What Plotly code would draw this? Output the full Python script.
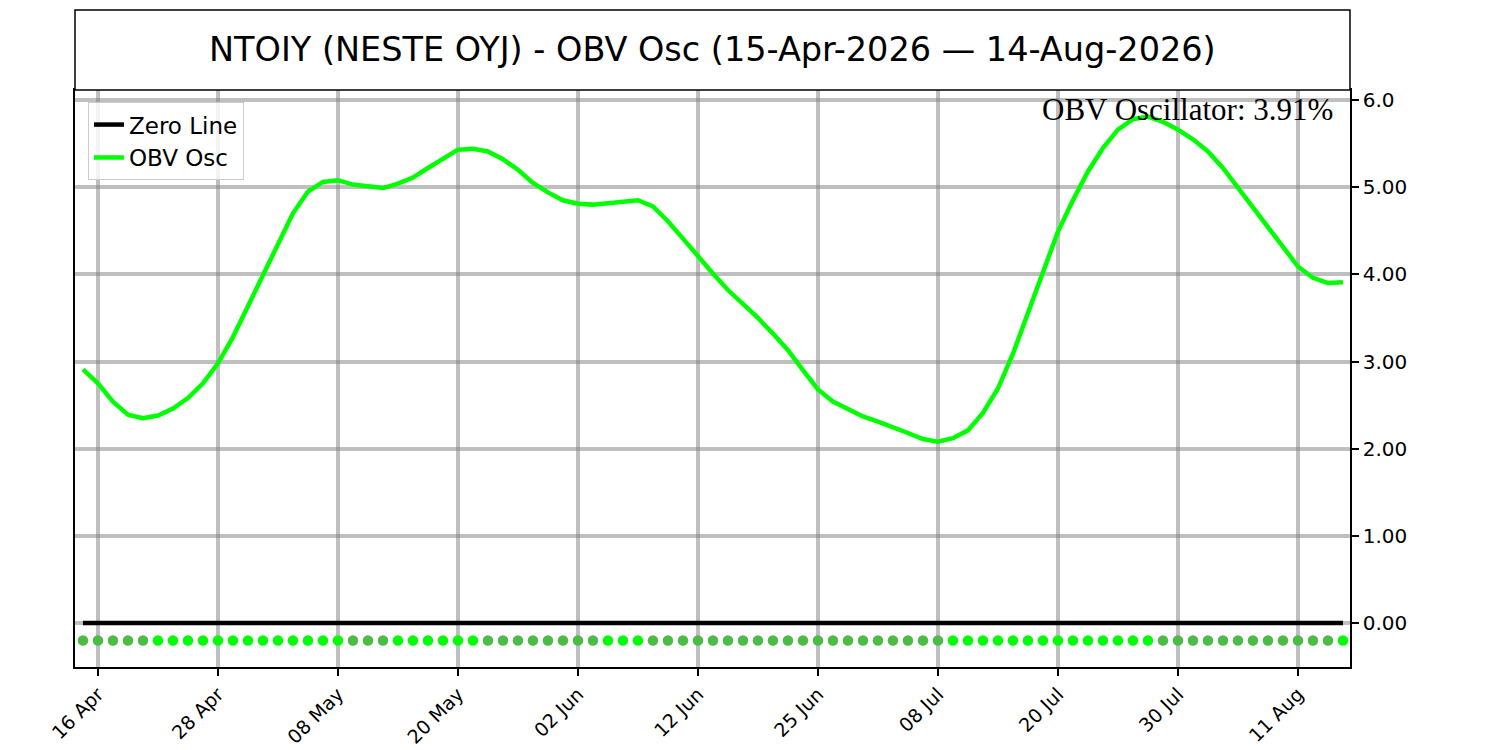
import pandas as pd
import plotly.graph_objects as go

# ---------------- data ----------------
start_date = "2026-04-15"
end_date = "2026-08-14"
market_holidays = ["2026-05-25", "2026-06-19", "2026-07-03"]

obv_osc = [
    2.91, 2.75, 2.54, 2.39, 2.35, 2.38, 2.46, 2.58, 2.75, 2.98,
    3.28, 3.63, 3.99, 4.35, 4.70, 4.95, 5.06, 5.08, 5.03, 5.01,
    4.99, 5.04, 5.11, 5.22, 5.33, 5.43, 5.44, 5.41, 5.32, 5.20,
    5.05, 4.94, 4.85, 4.81, 4.80, 4.82, 4.84, 4.85, 4.78, 4.61,
    4.41, 4.20, 4.01, 3.82, 3.66, 3.50, 3.32, 3.13, 2.90, 2.68,
    2.54, 2.45, 2.37, 2.31, 2.25, 2.18, 2.11, 2.08, 2.12, 2.21,
    2.41, 2.69, 3.09, 3.55, 4.03, 4.49, 4.85, 5.18, 5.45, 5.66,
    5.78, 5.81, 5.75, 5.66, 5.55, 5.41, 5.22, 4.99, 4.76, 4.53,
    4.30, 4.09, 3.96, 3.90, 3.91,
]
dot_level = -0.2
tick_every = 8
tick_first = 1
y_tick_vals = [0, 1, 2, 3, 4, 5, 6]
y_tick_text = ["0.00", "1.00", "2.00", "3.00", "4.00", "5.00", "6.0"]

title_text = "NTOIY (NESTE OYJ) - OBV Osc (15-Apr-2026 \u2014 14-Aug-2026)"
last_label = "OBV Oscillator: 3.91%"

# ---------------- derived ----------------
dates = [d for d in pd.bdate_range(start_date, end_date)
         if d.strftime("%Y-%m-%d") not in market_holidays]
n = len(obv_osc)
dates = dates[:n]
idx = list(range(n))
tick_idx = list(range(tick_first, n, tick_every))
tick_text = [dates[i].strftime("%d %b") for i in tick_idx]

BRIGHT = "#00ff00"
DULL = "#4cbb47"
dot_colors = [DULL] + [BRIGHT if obv_osc[i] >= obv_osc[i - 1] else DULL for i in range(1, n)]

fig = go.Figure()

fig.add_trace(go.Scatter(
    x=idx, y=[0] * n, mode="lines", name="Zero Line",
    line=dict(color="black", width=4.5),
))
fig.add_trace(go.Scatter(
    x=idx, y=obv_osc, mode="lines", name="OBV Osc",
    line=dict(color=BRIGHT, width=4.5),
))
fig.add_trace(go.Scatter(
    x=idx, y=[dot_level] * n, mode="markers", showlegend=False,
    marker=dict(color=dot_colors, size=10.5, line=dict(width=0)),
))

plot_h = 577
fig.add_shape(type="rect", xref="paper", yref="paper",
              x0=0, x1=1, y0=1, y1=1 + 80 / plot_h,
              line=dict(color="black", width=1.5), fillcolor="white", layer="above")
fig.add_annotation(text=title_text, xref="paper", yref="paper",
                   x=0.5, y=1 + 40 / plot_h, showarrow=False,
                   xanchor="center", yanchor="middle",
                   font=dict(family="DejaVu Sans", size=33.5, color="black"))
fig.add_annotation(text=last_label, xref="paper", yref="paper",
                   x=0.9885, y=1.0, showarrow=False,
                   xanchor="right", yanchor="top",
                   font=dict(family="Liberation Serif", size=31, color="black"))

grid_col = "rgba(128,128,128,0.5)"
fig.update_layout(
    width=1492, height=742,
    margin=dict(l=67, r=150, t=82, b=83, autoexpand=False),
    paper_bgcolor="white", plot_bgcolor="white",
    font=dict(family="DejaVu Sans", color="black"),
    showlegend=True,
    legend=dict(x=0.0102, y=0.979, xanchor="left", yanchor="top",
                bgcolor="rgba(255,255,255,0.8)", bordercolor="#cccccc", borderwidth=1,
                font=dict(size=23, family="DejaVu Sans"), tracegroupgap=0,
                itemwidth=30),
    xaxis=dict(
        range=[-0.53, n - 1 + 0.47], automargin=False,
        tickmode="array", tickvals=tick_idx, ticktext=tick_text,
        tickangle=-45, tickfont=dict(size=19),
        ticks="outside", ticklen=7, tickwidth=1.5, tickcolor="black",
        showgrid=True, gridcolor=grid_col, gridwidth=3.5,
        showline=True, linecolor="black", linewidth=1.5, mirror=True,
        zeroline=False,
    ),
    yaxis=dict(
        side="right", automargin=False,
        range=[-0.505, 6.115],
        tickmode="array", tickvals=y_tick_vals, ticktext=y_tick_text,
        tickfont=dict(size=20),
        ticks="outside", ticklen=7, tickwidth=1.5, tickcolor="black",
        showgrid=True, gridcolor=grid_col, gridwidth=3.5,
        showline=True, linecolor="black", linewidth=1.5, mirror=True,
        zeroline=False,
    ),
)

fig.write_html("out.html")
